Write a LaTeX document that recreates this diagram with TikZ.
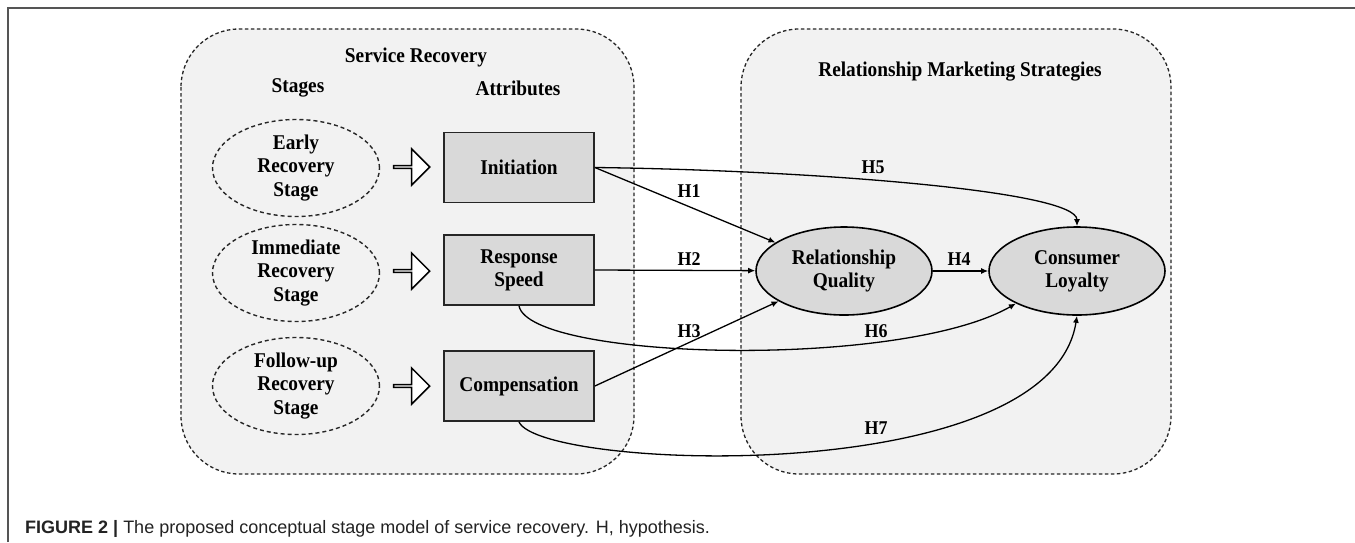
\documentclass[tikz,border=0pt]{standalone}
\usepackage{fontspec}
\newfontfamily\figfont{Liberation Serif}[FakeStretch=0.92]
\newfontfamily\capfont{Liberation Sans}
\usepackage{xcolor}
\usepackage{tikz}
\usetikzlibrary{arrows.meta,shapes.geometric,shapes.arrows}
\definecolor{panelgray}{RGB}{242,242,242}
\definecolor{boxgray}{RGB}{217,217,217}
\definecolor{rulegray}{RGB}{85,85,85}
\definecolor{captext}{RGB}{35,35,35}

\begin{document}
\begin{tikzpicture}[x=1pt, y=-1pt,
  panel/.style={draw=black!85, fill=panelgray, line width=1.3pt,
    dash pattern=on 3.5pt off 2.5pt, rounded corners=58pt},
  stage/.style={ellipse, draw=black!85, line width=1.4pt,
    dash pattern=on 4pt off 3pt, minimum width=167pt, minimum height=97pt,
    inner sep=0pt, align=center, font=\figfont\bfseries\fontsize{21}{23.5}\selectfont},
  attr/.style={rectangle, draw=black!85, fill=boxgray, line width=1.8pt,
    minimum width=150pt, minimum height=70pt, align=center,
    font=\figfont\bfseries\fontsize{21}{23}\selectfont},
  construct/.style={ellipse, draw=black, fill=boxgray, line width=1.6pt,
    minimum width=176pt, minimum height=88pt, inner sep=0pt, align=center,
    font=\figfont\bfseries\fontsize{21}{23}\selectfont},
  hollow/.style={single arrow, draw=black, fill=white, line width=1.5pt,
    minimum height=36pt, minimum width=36pt, single arrow head extend=9pt,
    inner sep=0pt},
  heading/.style={font=\figfont\bfseries\fontsize{21}{23}\selectfont},
  hyp/.style={-{Latex[length=7pt,width=6pt]}, line width=1.3pt},
  hlabel/.style={font=\figfont\bfseries\fontsize{19.5}{21}\selectfont},
]
  \useasboundingbox (0,0) rectangle (1355,542);
  \fill[white] (0,0) rectangle (1355,542);

  % Frame and caption
  \draw[rulegray, line width=1.6pt] (8,542) -- (8,8) -- (1355,8);
  \node[anchor=base west, inner sep=0pt, text=captext,
    font=\capfont\fontsize{18}{21}\selectfont] (caption) at (25,533)
    {\textbf{FIGURE 2 |} The proposed conceptual stage model of service recovery. H, hypothesis.};

  % Panels
  \draw[panel] (181,29) rectangle (634,474);
  \draw[panel] (741,29) rectangle (1171,474);

  % Service recovery (left)
  \node[heading] (srtitle) at (416,57) {Service Recovery};
  \node[heading] (stages) at (298,88) {Stages};
  \node[heading] (attrs) at (518,88) {Attributes};

  \node[stage] (early) at (296,168) {Early\\Recovery\\Stage};
  \node[stage] (immediate) at (296,273) {Immediate\\Recovery\\Stage};
  \node[stage] (followup) at (296,386) {Follow-up\\Recovery\\Stage};

  \node[hollow] (a1) at (411,167) {};
  \node[hollow] (a2) at (411,271) {};
  \node[hollow] (a3) at (411,386) {};

  \node[attr] (init) at (519,167.5) {Initiation};
  \node[attr] (speed) at (519,270) {Response\\Speed};
  \node[attr] (comp) at (519,386) {Compensation};

  % Relationship marketing strategies (right)
  \node[heading] (rmtitle) at (960,72) {Relationship Marketing Strategies};
  \node[construct] (rq) at (844,271) {Relationship\\Quality};
  \node[construct] (cl) at (1077,271) {Consumer\\Loyalty};

  % Hypotheses
  \draw[hyp] (init.east) -- (rq);
  \draw[hyp] (speed.east) -- (rq);
  \draw[hyp] (comp.east) -- (rq);
  \draw[hyp] (rq) -- (cl);
  \draw[hyp] (init.east) .. controls (800,170) and (1077,190) .. (cl.north);
  \draw[hyp] (speed.south) .. controls (530,360) and (900,370) .. (cl.208);
  \draw[hyp] (comp.south) .. controls (540,470) and (1050,490) .. (cl.south);

  \node[hlabel] (h1) at (689,191) {H1};
  \node[hlabel] (h2) at (689,259) {H2};
  \node[hlabel] (h3) at (689,331) {H3};
  \node[hlabel] (h4) at (959,259) {H4};
  \node[hlabel] (h5) at (873,167) {H5};
  \node[hlabel] (h6) at (876,331) {H6};
  \node[hlabel] (h7) at (876,428) {H7};
\end{tikzpicture}
\end{document}
